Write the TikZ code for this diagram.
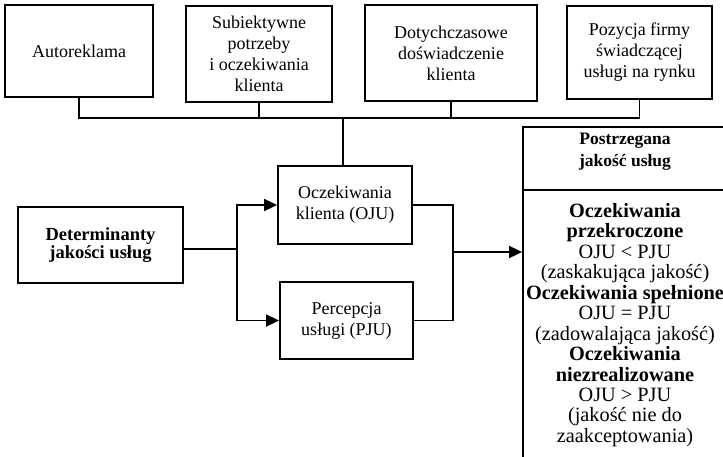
\documentclass[tikz,border=0pt]{standalone}
\usepackage{fontspec}
\setmainfont{Liberation Serif}
\usepackage{tikz}
\usetikzlibrary{arrows.meta}
\usetikzlibrary{shapes,arrows}
\tikzstyle{box} = [draw, rectangle, line width=1.8pt, align=center, inner sep=2pt]
\tikzstyle{arrow} = [line width=1.8pt, -{Triangle[length=13pt,width=12pt]}]
\tikzstyle{line} = [line width=1.8pt]
\newcommand{\boxfont}{\fontsize{18}{21}\selectfont}
\newcommand{\hdrfont}{\fontsize{17.5}{22}\selectfont\bfseries}
\newcommand{\resfont}{\fontsize{20.3}{20.45}\selectfont}

\begin{document}
\begin{tikzpicture}[x=1pt, y=-1pt]
    \useasboundingbox (0,0) rectangle (723,456);
    \clip (0,0) rectangle (723,456);
    % czynniki u gory
    \node[box, minimum width=148pt, minimum height=92pt, font=\boxfont] (auto) at (79,51) {Autoreklama};
    \node[box, minimum width=146pt, minimum height=96pt, font=\boxfont] (subj) at (259,54) {Subiektywne\\potrzeby\\i oczekiwania\\klienta};
    \node[box, minimum width=172pt, minimum height=96pt, font=\boxfont] (dosw) at (451,53) {Dotychczasowe\\doświadczenie\\klienta};
    \node[box, minimum width=145pt, minimum height=93pt, font=\boxfont] (poz) at (639.5,52.5) {Pozycja firmy\\świadczącej\\usługi na rynku};

    % srodkowa czesc
    \node[box, minimum width=165pt, minimum height=76pt, font={\fontsize{18.5}{18}\selectfont\bfseries}] (det) at (100.5,245) {Determinanty\\jakości usług};
    \node[box, minimum width=134pt, minimum height=78pt, font=\boxfont] (ocz) at (345,205) {Oczekiwania\\klienta (OJU)};
    \node[box, minimum width=133pt, minimum height=77pt, font=\boxfont] (perc) at (346.5,320.5) {Percepcja\\usługi (PJU)};

    % wynik (ucieta ramka)
    \node[box, minimum width=204pt, minimum height=343pt] (wyn) at (625,298.5) {};
    \draw[line] ([yshift=-64pt]wyn.north west) -- ([yshift=-64pt]wyn.north east);
    \node[font=\hdrfont, align=center] (hdr) at (625,152) {Postrzegana\\jakość usług};
    \node[font=\resfont, align=center] (opis) at (625,325) {\textbf{Oczekiwania}\\\textbf{przekroczone}\\OJU < PJU\\(zaskakująca jakość)\\\textbf{Oczekiwania spełnione}\\OJU = PJU\\(zadowalająca jakość)\\\textbf{Oczekiwania}\\\textbf{niezrealizowane}\\OJU > PJU\\(jakość nie do\\zaakceptowania)};

    % polaczenia
    \coordinate (bus) at (343,118);
    \coordinate (split) at (237,249);
    \coordinate (merge) at (453,252);
    \draw[line] (auto.south) -- (auto.south |- bus) -- (poz.south |- bus) -- (poz.south);
    \draw[line] (subj.south) -- (subj.south |- bus);
    \draw[line] (dosw.south) -- (dosw.south |- bus);
    \draw[line] (bus) -- (bus |- ocz.north);
    \draw[line] (det.east |- split) -- (split);
    \draw[arrow] (split) |- (ocz.west);
    \draw[arrow] (split) |- (perc.west);
    \draw[line] (ocz.east) -| (merge) |- (perc.east);
    \draw[arrow] (merge) -- (merge -| wyn.west);
\end{tikzpicture}
\end{document}
